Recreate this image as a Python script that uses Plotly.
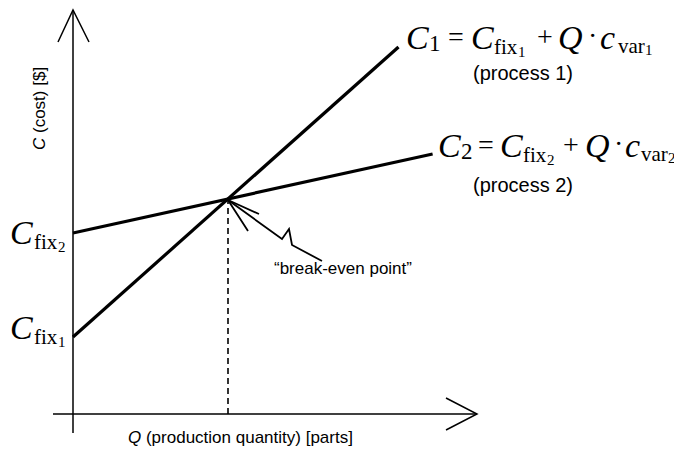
import plotly.graph_objects as go

# ---------------- data (model values) ----------------
# Process 1: low fixed cost, high variable cost
q_process1 = [0, 210]
c_process1 = [77, 367]
# Process 2: high fixed cost, low variable cost
q_process2 = [0, 232]
c_process2 = [181, 260]
# break-even point (Q, C)
break_even_q = [100]
break_even_c = [215]

x_title = "<i>Q</i> (production quantity) [parts]"
y_title = "<i>C</i> (cost) [$]"
callout_text = "\u201cbreak-even point\u201d"
process_labels = ["(process 1)", "(process 2)"]

# ---------------- layout geometry ----------------
OFF = 8                  # page body margin; figure pixel = page pixel - OFF
W, H = 682 - OFF, 450 - OFF
X0, Y0 = 73 - OFF, 414 - OFF   # figure-pixel position of the origin
SX, SY = 1.55, 1.0       # pixels per data unit
SERIF = "Liberation Serif"
SANS = "Liberation Sans"


def d(px, py):
    """page pixel -> data coordinates (for decorations only)"""
    return (px - OFF - X0) / SX, (Y0 - (py - OFF)) / SY


def path(points):
    s = ""
    for i, (px, py) in enumerate(points):
        x, y = d(px, py)
        s += ("M" if i == 0 else " L") + f"{x:.3f},{y:.3f}"
    return s


fig = go.Figure()

line_style = dict(color="black", width=3.2)
fig.add_trace(go.Scatter(x=q_process1, y=c_process1, mode="lines",
                         line=line_style, name="process 1", showlegend=False))
fig.add_trace(go.Scatter(x=q_process2, y=c_process2, mode="lines",
                         line=line_style, name="process 2", showlegend=False))
fig.add_trace(go.Scatter(x=[break_even_q[0], break_even_q[0]], y=[0, break_even_c[0]],
                         mode="lines", line=dict(color="black", width=1.6, dash="6px,4px"),
                         showlegend=False))

shapes = []
ax_line = dict(color="black", width=1.5)
# y axis + arrow
shapes.append(dict(type="path", xref="x", yref="y", path=path([(73, 433), (73, 10)]), line=ax_line))
shapes.append(dict(type="path", xref="x", yref="y", path=path([(58, 42), (73, 10), (89, 42)]), line=ax_line))
# x axis + arrow
shapes.append(dict(type="path", xref="x", yref="y", path=path([(53, 414), (477, 414)]), line=ax_line))
shapes.append(dict(type="path", xref="x", yref="y", path=path([(446, 398), (477, 414), (446, 430)]), line=ax_line))
# break-even callout arrow
shapes.append(dict(type="path", xref="x", yref="y",
                   path=path([(259, 214), (228, 200), (248, 231)]), line=dict(color="black", width=1.8)))
shapes.append(dict(type="path", xref="x", yref="y",
                   path=path([(228, 200), (282, 239), (289, 229), (292, 245), (322, 261)]),
                   line=dict(color="black", width=1.8)))

annotations = []

DESC = {SERIF: 0.216, SANS: 0.212}


def piece(text, x, base, size, family=SERIF, italic=False):
    if italic:
        text = f"<i>{text}</i>"
    ybot = base - OFF + DESC[family] * size + 1
    annotations.append(dict(text=text, x=(x - OFF) / W, y=1 - ybot / H, xref="paper", yref="paper",
                            xanchor="left", yanchor="bottom", showarrow=False,
                            font=dict(family=family, size=size, color="black")))


def equation(idx, x_list, base):
    n = str(idx)
    parts = [("C", 34, True, 0), (n, 23, False, 2), ("=", 28, False, -3),
             ("C", 34, True, 0), ("fix", 21, False, 5), (n, 15, False, 8),
             ("+", 28, False, -3), ("Q", 34, True, 0), ("\u00b7", 28, False, -4),
             ("c", 34, True, 0), ("var", 21, False, 4), (n, 15, False, 6)]
    for (t, s, it, dy), x in zip(parts, x_list):
        piece(t, x, base + dy, s, SERIF, it)


equation(1, [404, 427, 446, 469, 492, 516, 535, 556, 586, 598, 616, 643], 50)
equation(2, [436, 459, 476, 498, 521, 545, 561, 583, 612, 623, 639, 666], 158)

# fixed cost labels on the y axis
for n, base in [("2", 245), ("1", 340)]:
    piece("C", 8, base, 34, SERIF, True)
    piece("fix", 32, base + 5, 21, SERIF, False)
    piece(n, 56, base + 8, 15, SERIF, False)


def label(text, xc, yc, size=17, angle=0):
    annotations.append(dict(text=text, x=(xc - OFF) / W, y=1 - (yc - OFF) / H, xref="paper", yref="paper",
                            xanchor="center", yanchor="middle", showarrow=False, textangle=angle,
                            font=dict(family=SANS, size=size, color="black")))


label(process_labels[0], 523, 73, size=20)
label(process_labels[1], 523, 185, size=20)
label(callout_text, 343, 268)
label(x_title, 240, 437)
label(y_title, 40, 109, angle=-90)

fig.update_layout(
    width=W, height=H, margin=dict(l=0, r=0, t=0, b=0),
    paper_bgcolor="white", plot_bgcolor="white",
    xaxis=dict(range=[-X0 / SX, (W - X0) / SX], visible=False, fixedrange=True),
    yaxis=dict(range=[-(H - Y0) / SY, Y0 / SY], visible=False, fixedrange=True),
    shapes=shapes, annotations=annotations, showlegend=False,
)

fig.write_html("out.html")
